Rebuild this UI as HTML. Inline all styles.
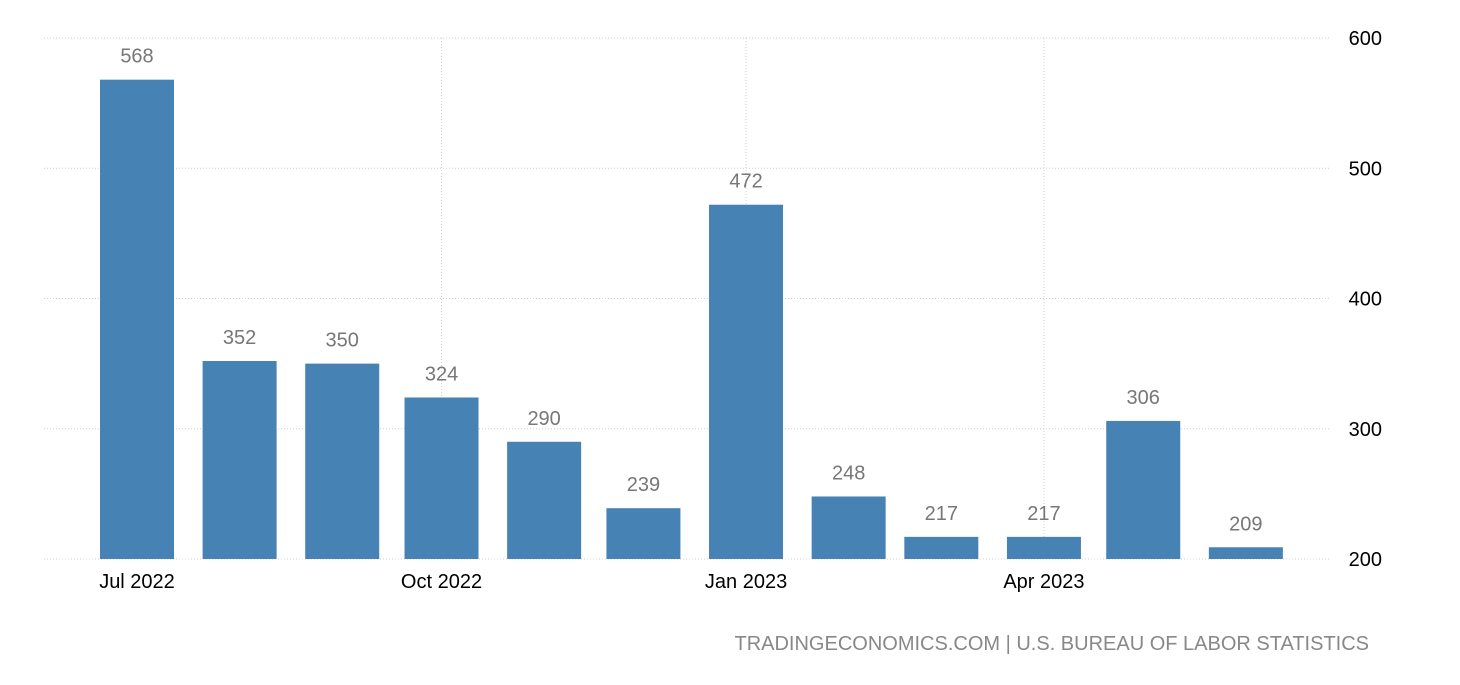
<!DOCTYPE html>
<html><head><meta charset="utf-8"><style>
body{margin:0;background:#fff;width:1460px;height:680px;overflow:hidden;font-family:"Liberation Sans",sans-serif}
</style></head><body>
<svg id="chart" width="1460" height="680" xmlns="http://www.w3.org/2000/svg"></svg>
<script>
const categories=["2022-07-01","2022-08-01","2022-09-01","2022-10-01","2022-11-01","2022-12-01","2023-01-01","2023-02-01","2023-03-01","2023-04-01","2023-05-01","2023-06-01"];
const values=[568,352,350,324,290,239,472,248,217,217,306,209];
const yTicks=[200,300,400,500,600];
const xTickDates=["2022-07-01","2022-10-01","2023-01-01","2023-04-01"];
const xTickLabels=["Jul 2022","Oct 2022","Jan 2023","Apr 2023"];
const svg=document.getElementById('chart');
const NS="http://www.w3.org/2000/svg";
const y=v=>559-(v-200)*1.3025;
const t0=Date.UTC(2022,6,1);
const day=s=>(Date.parse(s+"T00:00:00Z")-t0)/86400000;
const x=s=>137+day(s)*3.31;
function mk(tag,attrs){const e=document.createElementNS(NS,tag);for(const k in attrs)e.setAttribute(k,attrs[k]);svg.appendChild(e);return e;}
yTicks.forEach(v=>{
  const l=mk('line',{x1:44,x2:1330,y1:y(v),y2:y(v),stroke:'#d0d0d0','stroke-width':1,'stroke-dasharray':'1,2'});
  
  
  const t=mk('text',{x:1382,y:y(v)+7,'text-anchor':'end','font-size':20,fill:'#000'});
  t.textContent=v;
  
  
});
xTickDates.forEach((d,i)=>{
  if(i>0){const l=mk('line',{x1:x(d),x2:x(d),y1:38,y2:559,stroke:'#d0d0d0','stroke-width':1,'stroke-dasharray':'1,2'});
  
  }
  const t=mk('text',{x:x(d),y:588,'text-anchor':'middle','font-size':20,fill:'#000'});
  t.textContent=xTickLabels[i];
  
  
});
categories.forEach((c,i)=>{
  const cx=x(c);
  const r=mk('rect',{x:cx-37,y:y(values[i]),width:74,height:559-y(values[i]),fill:'#4682b4'});
  
  
  const t=mk('text',{x:cx,y:y(values[i])-17,'text-anchor':'middle','font-size':20,fill:'#777'});
  t.textContent=values[i];
  
  
});
const f=mk('text',{x:1369,y:650,'text-anchor':'end','font-size':20,fill:'#888'});
f.textContent="TRADINGECONOMICS.COM | U.S. BUREAU OF LABOR STATISTICS";


</script>
</body></html>
